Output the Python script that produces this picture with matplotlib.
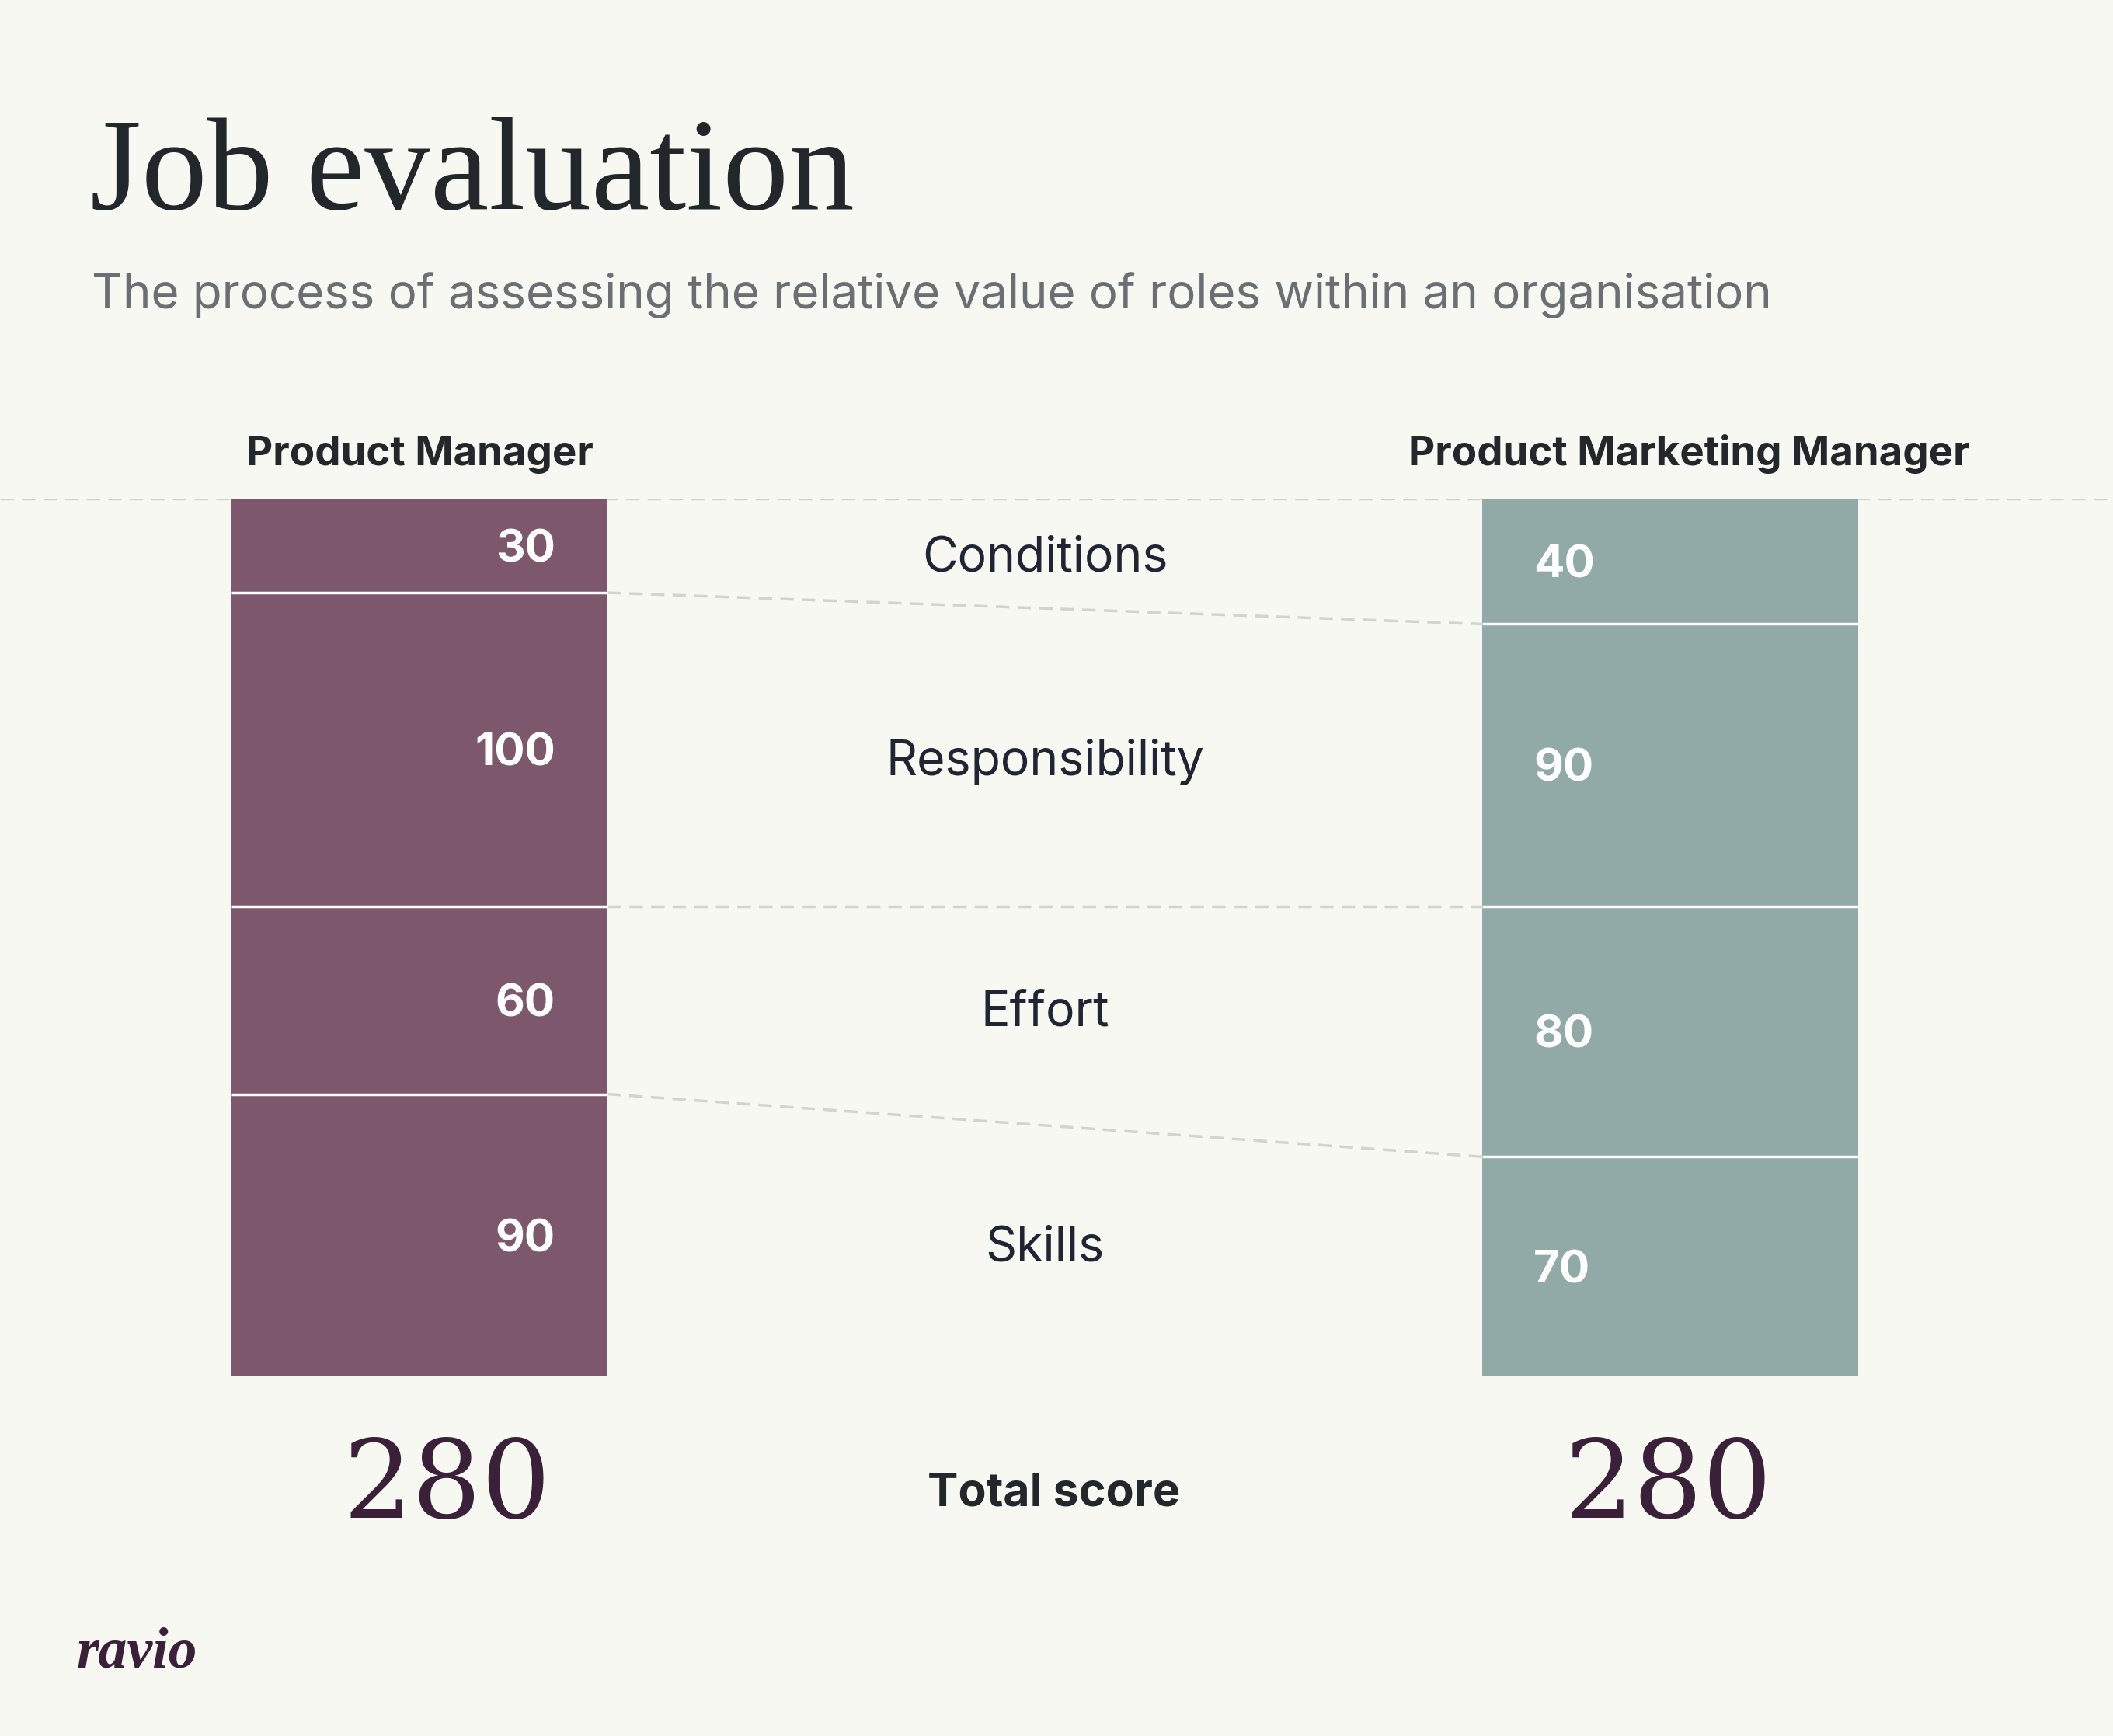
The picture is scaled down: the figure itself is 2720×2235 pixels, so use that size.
import numpy as np
import matplotlib
matplotlib.use("Agg")
import matplotlib.pyplot as plt
import matplotlib.transforms as mtransforms

# data
roles = ["Product Manager", "Product Marketing Manager"]
factors = ["Conditions", "Responsibility", "Effort", "Skills"]
pm_scores = [30, 100, 60, 90]
pmm_scores = [40, 90, 80, 70]

bg = "#f8f8f3"
col_pm = "#7d586d"
col_pmm = "#91aaa7"
dark = "#22272b"
label_col = "#1f2533"
grey = "#6b6e72"
dash_col = "#d4d4cf"
total_col = "#3a2139"

sans = ["Inter", "DejaVu Sans"]
serif = ["Liberation Serif", "DejaVu Serif"]

W, H = 1568, 1288  # layout grid of the reference (scaled)


def fx(x):
    return x / W


def fy(y):
    return 1 - y / H


fig = plt.figure(figsize=(27.2, 22.35), dpi=100, facecolor=bg)

# axes for the stacked bars: y in score units, 0 at the top
ax = fig.add_axes([0, fy(1021), 1, fy(370) - fy(1021)])
ax.set_facecolor(bg)
for s in ax.spines.values():
    s.set_visible(False)
ax.set_xticks([])
ax.set_yticks([])

xpos = np.array([0.0, 1.0])
gap = (1239.5 - 311.5)
barw = 279 / gap
ax.set_xlim((0 - 311.5) / gap, (W - 311.5) / gap)
total = sum(pm_scores)
ax.set_ylim(total, 0)

ax.axhline(0, color=dash_col, lw=2.5, dashes=(5, 3), zorder=1)

series = [pm_scores, pmm_scores]
colors = [col_pm, col_pmm]
cums = []
for i, vals in enumerate(series):
    vals = np.array(vals)
    bottoms = np.concatenate([[0], np.cumsum(vals)[:-1]])
    cums.append(np.cumsum(vals))
    ax.bar(xpos[i], vals, bottom=bottoms, width=barw, color=colors[i],
           align="center", zorder=2, linewidth=0)
    for b in np.cumsum(vals)[:-1]:
        ax.hlines(b, xpos[i] - barw / 2, xpos[i] + barw / 2, color="white",
                  lw=2.5, zorder=3)
    for v, b in zip(vals, bottoms):
        if i == 0:
            ax.text(xpos[i] + barw / 2 - 0.042, b + v / 2, str(v), ha="right",
                    va="center_baseline", color="white", fontsize=42,
                    fontweight="bold", family=sans, zorder=4)
        else:
            ax.text(xpos[i] - barw / 2 + 0.041, b + v / 2, str(v), ha="left",
                    va="center_baseline", color="white", fontsize=42,
                    fontweight="bold", family=sans, zorder=4)

# connector lines between matching boundaries
for a, b in zip(cums[0][:-1], cums[1][:-1]):
    ax.plot([xpos[0] + barw / 2, xpos[1] - barw / 2], [a, b], color=dash_col,
            lw=2.5, dashes=(5, 3), zorder=1)

# factor labels in the middle, level with the left bar's segments
c0 = np.cumsum(pm_scores) - np.array(pm_scores) / 2
c1 = np.cumsum(pmm_scores) - np.array(pmm_scores) / 2
for name, a, b in zip(factors, c0, c1):
    ax.text(0.5, a + 2.5, name, ha="center", va="center_baseline", fontsize=45,
            color=label_col, family=sans)

# column headers and totals, x follows the bar axes, y in figure
trans = mtransforms.blended_transform_factory(ax.transData, fig.transFigure)
head_shift = [0.0, 0.015]
total_shift = [0.022, -0.002]
for i, r in enumerate(roles):
    fig.text(xpos[i] + head_shift[i], fy(345), r, transform=trans, ha="center",
             va="baseline", fontsize=38, fontweight="bold", color=dark,
             family=sans)
    fig.text(xpos[i] + total_shift[i], fy(1126), str(sum(series[i])),
             transform=trans, ha="center", va="baseline", fontsize=101,
             color=total_col, family=["DejaVu Serif"])
fig.text(0.507, fy(1117), "Total score", transform=trans, ha="center",
         va="baseline", fontsize=42.5, fontweight="bold", color=dark,
         family=sans)

fig.text(fx(67), fy(155), "Job evaluation", ha="left", va="baseline",
         fontsize=122, color=dark, family=serif)
fig.text(fx(68), fy(229),
         "The process of assessing the relative value of roles within an organisation",
         ha="left", va="baseline", fontsize=44.5, color=grey, family=sans)
fig.text(fx(57), fy(1237), "ravio", ha="left", va="baseline", fontsize=53,
         color=total_col, family=serif, fontweight="bold", style="italic")

fig.savefig("out.png", dpi=100, facecolor=bg)
